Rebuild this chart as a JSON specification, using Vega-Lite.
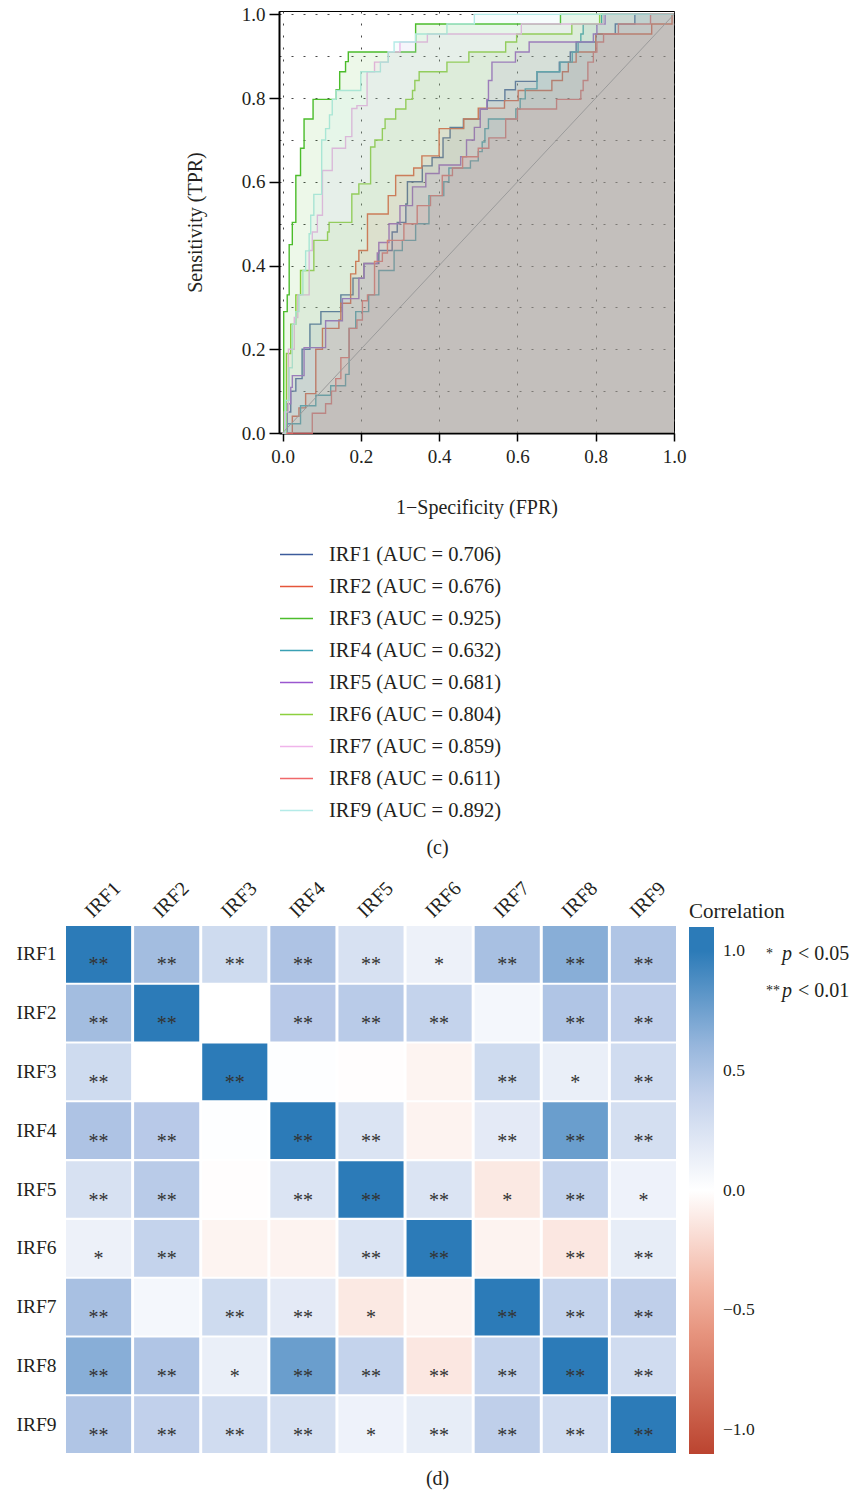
{
"$schema":"https://vega.github.io/schema/vega-lite/v6.json",
"padding":{"left":15,"top":4,"right":2,"bottom":4},
"background":"white",
"config":{
 "font":"Liberation Serif",
 "view":{"stroke":null},
 "axis":{"labelFont":"Liberation Serif","titleFont":"Liberation Serif","labelColor":"#231f20","titleColor":"#231f20","titleFontWeight":"normal"},
 "legend":{"labelFont":"Liberation Serif","titleFont":"Liberation Serif","labelColor":"#231f20","titleColor":"#231f20","titleFontWeight":"normal","padding":0},
 "title":{"font":"Liberation Serif","fontWeight":"normal","fontSize":20,"color":"#231f20"},
 "text":{"font":"Liberation Serif"}
},
"datasets":{
 "roc":[
  {"s":"IRF1 (AUC = 0.706)","fpr":0,"tpr":0},{"s":"IRF1 (AUC = 0.706)","fpr":0.012,"tpr":0.05},{"s":"IRF1 (AUC = 0.706)","fpr":0.021,"tpr":0.1},{"s":"IRF1 (AUC = 0.706)","fpr":0.034,"tpr":0.13},{"s":"IRF1 (AUC = 0.706)","fpr":0.05,"tpr":0.2},{"s":"IRF1 (AUC = 0.706)","fpr":0.07,"tpr":0.26},{"s":"IRF1 (AUC = 0.706)","fpr":0.098,"tpr":0.29},{"s":"IRF1 (AUC = 0.706)","fpr":0.149,"tpr":0.33},{"s":"IRF1 (AUC = 0.706)","fpr":0.18,"tpr":0.37},{"s":"IRF1 (AUC = 0.706)","fpr":0.208,"tpr":0.405},{"s":"IRF1 (AUC = 0.706)","fpr":0.246,"tpr":0.436},{"s":"IRF1 (AUC = 0.706)","fpr":0.28,"tpr":0.48},{"s":"IRF1 (AUC = 0.706)","fpr":0.293,"tpr":0.503},{"s":"IRF1 (AUC = 0.706)","fpr":0.315,"tpr":0.547},{"s":"IRF1 (AUC = 0.706)","fpr":0.319,"tpr":0.6},{"s":"IRF1 (AUC = 0.706)","fpr":0.357,"tpr":0.638},{"s":"IRF1 (AUC = 0.706)","fpr":0.382,"tpr":0.658},{"s":"IRF1 (AUC = 0.706)","fpr":0.41,"tpr":0.705},{"s":"IRF1 (AUC = 0.706)","fpr":0.428,"tpr":0.73},{"s":"IRF1 (AUC = 0.706)","fpr":0.462,"tpr":0.75},{"s":"IRF1 (AUC = 0.706)","fpr":0.505,"tpr":0.774},{"s":"IRF1 (AUC = 0.706)","fpr":0.523,"tpr":0.794},{"s":"IRF1 (AUC = 0.706)","fpr":0.568,"tpr":0.82},{"s":"IRF1 (AUC = 0.706)","fpr":0.595,"tpr":0.84},{"s":"IRF1 (AUC = 0.706)","fpr":0.65,"tpr":0.863},{"s":"IRF1 (AUC = 0.706)","fpr":0.707,"tpr":0.886},{"s":"IRF1 (AUC = 0.706)","fpr":0.735,"tpr":0.91},{"s":"IRF1 (AUC = 0.706)","fpr":0.75,"tpr":0.934},{"s":"IRF1 (AUC = 0.706)","fpr":0.8,"tpr":0.953},{"s":"IRF1 (AUC = 0.706)","fpr":0.85,"tpr":0.977},{"s":"IRF1 (AUC = 0.706)","fpr":0.9,"tpr":1},{"s":"IRF1 (AUC = 0.706)","fpr":1,"tpr":1},
  {"s":"IRF2 (AUC = 0.676)","fpr":0,"tpr":0},{"s":"IRF2 (AUC = 0.676)","fpr":0.025,"tpr":0.04},{"s":"IRF2 (AUC = 0.676)","fpr":0.042,"tpr":0.06},{"s":"IRF2 (AUC = 0.676)","fpr":0.059,"tpr":0.094},{"s":"IRF2 (AUC = 0.676)","fpr":0.085,"tpr":0.2},{"s":"IRF2 (AUC = 0.676)","fpr":0.102,"tpr":0.25},{"s":"IRF2 (AUC = 0.676)","fpr":0.144,"tpr":0.27},{"s":"IRF2 (AUC = 0.676)","fpr":0.149,"tpr":0.31},{"s":"IRF2 (AUC = 0.676)","fpr":0.174,"tpr":0.38},{"s":"IRF2 (AUC = 0.676)","fpr":0.187,"tpr":0.41},{"s":"IRF2 (AUC = 0.676)","fpr":0.195,"tpr":0.436},{"s":"IRF2 (AUC = 0.676)","fpr":0.217,"tpr":0.523},{"s":"IRF2 (AUC = 0.676)","fpr":0.27,"tpr":0.567},{"s":"IRF2 (AUC = 0.676)","fpr":0.289,"tpr":0.615},{"s":"IRF2 (AUC = 0.676)","fpr":0.335,"tpr":0.633},{"s":"IRF2 (AUC = 0.676)","fpr":0.356,"tpr":0.662},{"s":"IRF2 (AUC = 0.676)","fpr":0.4,"tpr":0.727},{"s":"IRF2 (AUC = 0.676)","fpr":0.463,"tpr":0.75},{"s":"IRF2 (AUC = 0.676)","fpr":0.5,"tpr":0.776},{"s":"IRF2 (AUC = 0.676)","fpr":0.567,"tpr":0.794},{"s":"IRF2 (AUC = 0.676)","fpr":0.602,"tpr":0.818},{"s":"IRF2 (AUC = 0.676)","fpr":0.688,"tpr":0.842},{"s":"IRF2 (AUC = 0.676)","fpr":0.715,"tpr":0.863},{"s":"IRF2 (AUC = 0.676)","fpr":0.73,"tpr":0.886},{"s":"IRF2 (AUC = 0.676)","fpr":0.75,"tpr":0.91},{"s":"IRF2 (AUC = 0.676)","fpr":0.8,"tpr":0.953},{"s":"IRF2 (AUC = 0.676)","fpr":0.943,"tpr":0.977},{"s":"IRF2 (AUC = 0.676)","fpr":0.995,"tpr":1},{"s":"IRF2 (AUC = 0.676)","fpr":1,"tpr":1},
  {"s":"IRF3 (AUC = 0.925)","fpr":0,"tpr":0},{"s":"IRF3 (AUC = 0.925)","fpr":0.003,"tpr":0.29},{"s":"IRF3 (AUC = 0.925)","fpr":0.012,"tpr":0.33},{"s":"IRF3 (AUC = 0.925)","fpr":0.017,"tpr":0.45},{"s":"IRF3 (AUC = 0.925)","fpr":0.025,"tpr":0.503},{"s":"IRF3 (AUC = 0.925)","fpr":0.034,"tpr":0.615},{"s":"IRF3 (AUC = 0.925)","fpr":0.046,"tpr":0.68},{"s":"IRF3 (AUC = 0.925)","fpr":0.055,"tpr":0.75},{"s":"IRF3 (AUC = 0.925)","fpr":0.078,"tpr":0.797},{"s":"IRF3 (AUC = 0.925)","fpr":0.137,"tpr":0.82},{"s":"IRF3 (AUC = 0.925)","fpr":0.146,"tpr":0.863},{"s":"IRF3 (AUC = 0.925)","fpr":0.161,"tpr":0.887},{"s":"IRF3 (AUC = 0.925)","fpr":0.168,"tpr":0.91},{"s":"IRF3 (AUC = 0.925)","fpr":0.34,"tpr":0.977},{"s":"IRF3 (AUC = 0.925)","fpr":0.71,"tpr":1},{"s":"IRF3 (AUC = 0.925)","fpr":1,"tpr":1},
  {"s":"IRF4 (AUC = 0.632)","fpr":0,"tpr":0},{"s":"IRF4 (AUC = 0.632)","fpr":0.008,"tpr":0.022},{"s":"IRF4 (AUC = 0.632)","fpr":0.046,"tpr":0.065},{"s":"IRF4 (AUC = 0.632)","fpr":0.085,"tpr":0.09},{"s":"IRF4 (AUC = 0.632)","fpr":0.123,"tpr":0.113},{"s":"IRF4 (AUC = 0.632)","fpr":0.161,"tpr":0.14},{"s":"IRF4 (AUC = 0.632)","fpr":0.17,"tpr":0.25},{"s":"IRF4 (AUC = 0.632)","fpr":0.187,"tpr":0.29},{"s":"IRF4 (AUC = 0.632)","fpr":0.22,"tpr":0.33},{"s":"IRF4 (AUC = 0.632)","fpr":0.246,"tpr":0.388},{"s":"IRF4 (AUC = 0.632)","fpr":0.285,"tpr":0.436},{"s":"IRF4 (AUC = 0.632)","fpr":0.306,"tpr":0.46},{"s":"IRF4 (AUC = 0.632)","fpr":0.34,"tpr":0.5},{"s":"IRF4 (AUC = 0.632)","fpr":0.374,"tpr":0.567},{"s":"IRF4 (AUC = 0.632)","fpr":0.412,"tpr":0.6},{"s":"IRF4 (AUC = 0.632)","fpr":0.425,"tpr":0.633},{"s":"IRF4 (AUC = 0.632)","fpr":0.48,"tpr":0.65},{"s":"IRF4 (AUC = 0.632)","fpr":0.5,"tpr":0.672},{"s":"IRF4 (AUC = 0.632)","fpr":0.51,"tpr":0.695},{"s":"IRF4 (AUC = 0.632)","fpr":0.517,"tpr":0.727},{"s":"IRF4 (AUC = 0.632)","fpr":0.526,"tpr":0.75},{"s":"IRF4 (AUC = 0.632)","fpr":0.596,"tpr":0.774},{"s":"IRF4 (AUC = 0.632)","fpr":0.607,"tpr":0.798},{"s":"IRF4 (AUC = 0.632)","fpr":0.62,"tpr":0.822},{"s":"IRF4 (AUC = 0.632)","fpr":0.65,"tpr":0.863},{"s":"IRF4 (AUC = 0.632)","fpr":0.709,"tpr":0.886},{"s":"IRF4 (AUC = 0.632)","fpr":0.74,"tpr":0.91},{"s":"IRF4 (AUC = 0.632)","fpr":0.755,"tpr":0.934},{"s":"IRF4 (AUC = 0.632)","fpr":0.762,"tpr":0.953},{"s":"IRF4 (AUC = 0.632)","fpr":0.768,"tpr":0.977},{"s":"IRF4 (AUC = 0.632)","fpr":0.815,"tpr":1},{"s":"IRF4 (AUC = 0.632)","fpr":1,"tpr":1},
  {"s":"IRF5 (AUC = 0.681)","fpr":0,"tpr":0},{"s":"IRF5 (AUC = 0.681)","fpr":0.012,"tpr":0.07},{"s":"IRF5 (AUC = 0.681)","fpr":0.021,"tpr":0.109},{"s":"IRF5 (AUC = 0.681)","fpr":0.025,"tpr":0.137},{"s":"IRF5 (AUC = 0.681)","fpr":0.055,"tpr":0.204},{"s":"IRF5 (AUC = 0.681)","fpr":0.11,"tpr":0.268},{"s":"IRF5 (AUC = 0.681)","fpr":0.153,"tpr":0.321},{"s":"IRF5 (AUC = 0.681)","fpr":0.195,"tpr":0.37},{"s":"IRF5 (AUC = 0.681)","fpr":0.208,"tpr":0.405},{"s":"IRF5 (AUC = 0.681)","fpr":0.242,"tpr":0.43},{"s":"IRF5 (AUC = 0.681)","fpr":0.246,"tpr":0.455},{"s":"IRF5 (AUC = 0.681)","fpr":0.272,"tpr":0.5},{"s":"IRF5 (AUC = 0.681)","fpr":0.3,"tpr":0.543},{"s":"IRF5 (AUC = 0.681)","fpr":0.332,"tpr":0.588},{"s":"IRF5 (AUC = 0.681)","fpr":0.366,"tpr":0.62},{"s":"IRF5 (AUC = 0.681)","fpr":0.4,"tpr":0.64},{"s":"IRF5 (AUC = 0.681)","fpr":0.455,"tpr":0.66},{"s":"IRF5 (AUC = 0.681)","fpr":0.47,"tpr":0.7},{"s":"IRF5 (AUC = 0.681)","fpr":0.49,"tpr":0.73},{"s":"IRF5 (AUC = 0.681)","fpr":0.505,"tpr":0.774},{"s":"IRF5 (AUC = 0.681)","fpr":0.522,"tpr":0.797},{"s":"IRF5 (AUC = 0.681)","fpr":0.526,"tpr":0.842},{"s":"IRF5 (AUC = 0.681)","fpr":0.535,"tpr":0.886},{"s":"IRF5 (AUC = 0.681)","fpr":0.595,"tpr":0.91},{"s":"IRF5 (AUC = 0.681)","fpr":0.63,"tpr":0.934},{"s":"IRF5 (AUC = 0.681)","fpr":0.794,"tpr":0.953},{"s":"IRF5 (AUC = 0.681)","fpr":0.803,"tpr":0.977},{"s":"IRF5 (AUC = 0.681)","fpr":0.824,"tpr":1},{"s":"IRF5 (AUC = 0.681)","fpr":1,"tpr":1},
  {"s":"IRF6 (AUC = 0.804)","fpr":0,"tpr":0},{"s":"IRF6 (AUC = 0.804)","fpr":0.01,"tpr":0.19},{"s":"IRF6 (AUC = 0.804)","fpr":0.021,"tpr":0.26},{"s":"IRF6 (AUC = 0.804)","fpr":0.034,"tpr":0.33},{"s":"IRF6 (AUC = 0.804)","fpr":0.046,"tpr":0.388},{"s":"IRF6 (AUC = 0.804)","fpr":0.08,"tpr":0.46},{"s":"IRF6 (AUC = 0.804)","fpr":0.115,"tpr":0.48},{"s":"IRF6 (AUC = 0.804)","fpr":0.119,"tpr":0.503},{"s":"IRF6 (AUC = 0.804)","fpr":0.177,"tpr":0.571},{"s":"IRF6 (AUC = 0.804)","fpr":0.195,"tpr":0.595},{"s":"IRF6 (AUC = 0.804)","fpr":0.225,"tpr":0.683},{"s":"IRF6 (AUC = 0.804)","fpr":0.236,"tpr":0.7},{"s":"IRF6 (AUC = 0.804)","fpr":0.255,"tpr":0.727},{"s":"IRF6 (AUC = 0.804)","fpr":0.262,"tpr":0.75},{"s":"IRF6 (AUC = 0.804)","fpr":0.289,"tpr":0.774},{"s":"IRF6 (AUC = 0.804)","fpr":0.315,"tpr":0.797},{"s":"IRF6 (AUC = 0.804)","fpr":0.332,"tpr":0.818},{"s":"IRF6 (AUC = 0.804)","fpr":0.338,"tpr":0.842},{"s":"IRF6 (AUC = 0.804)","fpr":0.349,"tpr":0.863},{"s":"IRF6 (AUC = 0.804)","fpr":0.42,"tpr":0.886},{"s":"IRF6 (AUC = 0.804)","fpr":0.476,"tpr":0.91},{"s":"IRF6 (AUC = 0.804)","fpr":0.57,"tpr":0.934},{"s":"IRF6 (AUC = 0.804)","fpr":0.598,"tpr":0.953},{"s":"IRF6 (AUC = 0.804)","fpr":0.739,"tpr":0.977},{"s":"IRF6 (AUC = 0.804)","fpr":0.81,"tpr":1},{"s":"IRF6 (AUC = 0.804)","fpr":1,"tpr":1},
  {"s":"IRF7 (AUC = 0.859)","fpr":0,"tpr":0},{"s":"IRF7 (AUC = 0.859)","fpr":0.005,"tpr":0.05},{"s":"IRF7 (AUC = 0.859)","fpr":0.015,"tpr":0.2},{"s":"IRF7 (AUC = 0.859)","fpr":0.03,"tpr":0.276},{"s":"IRF7 (AUC = 0.859)","fpr":0.039,"tpr":0.33},{"s":"IRF7 (AUC = 0.859)","fpr":0.068,"tpr":0.436},{"s":"IRF7 (AUC = 0.859)","fpr":0.076,"tpr":0.48},{"s":"IRF7 (AUC = 0.859)","fpr":0.089,"tpr":0.52},{"s":"IRF7 (AUC = 0.859)","fpr":0.102,"tpr":0.627},{"s":"IRF7 (AUC = 0.859)","fpr":0.127,"tpr":0.68},{"s":"IRF7 (AUC = 0.859)","fpr":0.161,"tpr":0.708},{"s":"IRF7 (AUC = 0.859)","fpr":0.177,"tpr":0.775},{"s":"IRF7 (AUC = 0.859)","fpr":0.19,"tpr":0.782},{"s":"IRF7 (AUC = 0.859)","fpr":0.216,"tpr":0.863},{"s":"IRF7 (AUC = 0.859)","fpr":0.235,"tpr":0.886},{"s":"IRF7 (AUC = 0.859)","fpr":0.27,"tpr":0.91},{"s":"IRF7 (AUC = 0.859)","fpr":0.3,"tpr":0.934},{"s":"IRF7 (AUC = 0.859)","fpr":0.37,"tpr":0.953},{"s":"IRF7 (AUC = 0.859)","fpr":0.61,"tpr":0.977},{"s":"IRF7 (AUC = 0.859)","fpr":0.82,"tpr":1},{"s":"IRF7 (AUC = 0.859)","fpr":1,"tpr":1},
  {"s":"IRF8 (AUC = 0.611)","fpr":0,"tpr":0},{"s":"IRF8 (AUC = 0.611)","fpr":0.076,"tpr":0.047},{"s":"IRF8 (AUC = 0.611)","fpr":0.11,"tpr":0.07},{"s":"IRF8 (AUC = 0.611)","fpr":0.125,"tpr":0.1},{"s":"IRF8 (AUC = 0.611)","fpr":0.136,"tpr":0.13},{"s":"IRF8 (AUC = 0.611)","fpr":0.149,"tpr":0.18},{"s":"IRF8 (AUC = 0.611)","fpr":0.17,"tpr":0.25},{"s":"IRF8 (AUC = 0.611)","fpr":0.19,"tpr":0.27},{"s":"IRF8 (AUC = 0.611)","fpr":0.204,"tpr":0.316},{"s":"IRF8 (AUC = 0.611)","fpr":0.217,"tpr":0.33},{"s":"IRF8 (AUC = 0.611)","fpr":0.235,"tpr":0.41},{"s":"IRF8 (AUC = 0.611)","fpr":0.255,"tpr":0.43},{"s":"IRF8 (AUC = 0.611)","fpr":0.268,"tpr":0.46},{"s":"IRF8 (AUC = 0.611)","fpr":0.31,"tpr":0.5},{"s":"IRF8 (AUC = 0.611)","fpr":0.344,"tpr":0.543},{"s":"IRF8 (AUC = 0.611)","fpr":0.378,"tpr":0.567},{"s":"IRF8 (AUC = 0.611)","fpr":0.408,"tpr":0.615},{"s":"IRF8 (AUC = 0.611)","fpr":0.434,"tpr":0.633},{"s":"IRF8 (AUC = 0.611)","fpr":0.46,"tpr":0.66},{"s":"IRF8 (AUC = 0.611)","fpr":0.5,"tpr":0.68},{"s":"IRF8 (AUC = 0.611)","fpr":0.527,"tpr":0.705},{"s":"IRF8 (AUC = 0.611)","fpr":0.57,"tpr":0.75},{"s":"IRF8 (AUC = 0.611)","fpr":0.6,"tpr":0.774},{"s":"IRF8 (AUC = 0.611)","fpr":0.7,"tpr":0.797},{"s":"IRF8 (AUC = 0.611)","fpr":0.762,"tpr":0.818},{"s":"IRF8 (AUC = 0.611)","fpr":0.768,"tpr":0.842},{"s":"IRF8 (AUC = 0.611)","fpr":0.78,"tpr":0.886},{"s":"IRF8 (AUC = 0.611)","fpr":0.794,"tpr":0.91},{"s":"IRF8 (AUC = 0.611)","fpr":0.803,"tpr":0.934},{"s":"IRF8 (AUC = 0.611)","fpr":0.82,"tpr":0.953},{"s":"IRF8 (AUC = 0.611)","fpr":0.858,"tpr":0.977},{"s":"IRF8 (AUC = 0.611)","fpr":0.94,"tpr":1},{"s":"IRF8 (AUC = 0.611)","fpr":1,"tpr":1},
  {"s":"IRF9 (AUC = 0.892)","fpr":0,"tpr":0},{"s":"IRF9 (AUC = 0.892)","fpr":0.008,"tpr":0.078},{"s":"IRF9 (AUC = 0.892)","fpr":0.017,"tpr":0.156},{"s":"IRF9 (AUC = 0.892)","fpr":0.025,"tpr":0.26},{"s":"IRF9 (AUC = 0.892)","fpr":0.034,"tpr":0.29},{"s":"IRF9 (AUC = 0.892)","fpr":0.042,"tpr":0.33},{"s":"IRF9 (AUC = 0.892)","fpr":0.052,"tpr":0.388},{"s":"IRF9 (AUC = 0.892)","fpr":0.059,"tpr":0.435},{"s":"IRF9 (AUC = 0.892)","fpr":0.068,"tpr":0.476},{"s":"IRF9 (AUC = 0.892)","fpr":0.072,"tpr":0.52},{"s":"IRF9 (AUC = 0.892)","fpr":0.08,"tpr":0.57},{"s":"IRF9 (AUC = 0.892)","fpr":0.1,"tpr":0.7},{"s":"IRF9 (AUC = 0.892)","fpr":0.11,"tpr":0.727},{"s":"IRF9 (AUC = 0.892)","fpr":0.12,"tpr":0.76},{"s":"IRF9 (AUC = 0.892)","fpr":0.127,"tpr":0.797},{"s":"IRF9 (AUC = 0.892)","fpr":0.137,"tpr":0.818},{"s":"IRF9 (AUC = 0.892)","fpr":0.2,"tpr":0.863},{"s":"IRF9 (AUC = 0.892)","fpr":0.25,"tpr":0.886},{"s":"IRF9 (AUC = 0.892)","fpr":0.27,"tpr":0.91},{"s":"IRF9 (AUC = 0.892)","fpr":0.285,"tpr":0.934},{"s":"IRF9 (AUC = 0.892)","fpr":0.34,"tpr":0.953},{"s":"IRF9 (AUC = 0.892)","fpr":0.42,"tpr":0.977},{"s":"IRF9 (AUC = 0.892)","fpr":0.49,"tpr":1},{"s":"IRF9 (AUC = 0.892)","fpr":1,"tpr":1}
 ],
 "diag":[{"fpr":0,"tpr":0},{"fpr":1,"tpr":1}],
 "corr":[
  {"r":"IRF1","c":"IRF1","v":1,"sig":"**"},{"r":"IRF1","c":"IRF2","v":0.56,"sig":"**"},{"r":"IRF1","c":"IRF3","v":0.32,"sig":"**"},{"r":"IRF1","c":"IRF4","v":0.52,"sig":"**"},{"r":"IRF1","c":"IRF5","v":0.26,"sig":"**"},{"r":"IRF1","c":"IRF6","v":0.12,"sig":"*"},{"r":"IRF1","c":"IRF7","v":0.54,"sig":"**"},{"r":"IRF1","c":"IRF8","v":0.66,"sig":"**"},{"r":"IRF1","c":"IRF9","v":0.51,"sig":"**"},
  {"r":"IRF2","c":"IRF1","v":0.56,"sig":"**"},{"r":"IRF2","c":"IRF2","v":1,"sig":"**"},{"r":"IRF2","c":"IRF3","v":0.0,"sig":""},{"r":"IRF2","c":"IRF4","v":0.47,"sig":"**"},{"r":"IRF2","c":"IRF5","v":0.46,"sig":"**"},{"r":"IRF2","c":"IRF6","v":0.39,"sig":"**"},{"r":"IRF2","c":"IRF7","v":0.07,"sig":""},{"r":"IRF2","c":"IRF8","v":0.51,"sig":"**"},{"r":"IRF2","c":"IRF9","v":0.41,"sig":"**"},
  {"r":"IRF3","c":"IRF1","v":0.32,"sig":"**"},{"r":"IRF3","c":"IRF2","v":0.0,"sig":""},{"r":"IRF3","c":"IRF3","v":1,"sig":"**"},{"r":"IRF3","c":"IRF4","v":0.01,"sig":""},{"r":"IRF3","c":"IRF5","v":-0.01,"sig":""},{"r":"IRF3","c":"IRF6","v":-0.06,"sig":""},{"r":"IRF3","c":"IRF7","v":0.32,"sig":"**"},{"r":"IRF3","c":"IRF8","v":0.14,"sig":"*"},{"r":"IRF3","c":"IRF9","v":0.31,"sig":"**"},
  {"r":"IRF4","c":"IRF1","v":0.52,"sig":"**"},{"r":"IRF4","c":"IRF2","v":0.47,"sig":"**"},{"r":"IRF4","c":"IRF3","v":0.01,"sig":""},{"r":"IRF4","c":"IRF4","v":1,"sig":"**"},{"r":"IRF4","c":"IRF5","v":0.24,"sig":"**"},{"r":"IRF4","c":"IRF6","v":-0.065,"sig":""},{"r":"IRF4","c":"IRF7","v":0.18,"sig":"**"},{"r":"IRF4","c":"IRF8","v":0.77,"sig":"**"},{"r":"IRF4","c":"IRF9","v":0.28,"sig":"**"},
  {"r":"IRF5","c":"IRF1","v":0.26,"sig":"**"},{"r":"IRF5","c":"IRF2","v":0.46,"sig":"**"},{"r":"IRF5","c":"IRF3","v":-0.01,"sig":""},{"r":"IRF5","c":"IRF4","v":0.24,"sig":"**"},{"r":"IRF5","c":"IRF5","v":1,"sig":"**"},{"r":"IRF5","c":"IRF6","v":0.24,"sig":"**"},{"r":"IRF5","c":"IRF7","v":-0.12,"sig":"*"},{"r":"IRF5","c":"IRF8","v":0.39,"sig":"**"},{"r":"IRF5","c":"IRF9","v":0.11,"sig":"*"},
  {"r":"IRF6","c":"IRF1","v":0.12,"sig":"*"},{"r":"IRF6","c":"IRF2","v":0.39,"sig":"**"},{"r":"IRF6","c":"IRF3","v":-0.06,"sig":""},{"r":"IRF6","c":"IRF4","v":-0.065,"sig":""},{"r":"IRF6","c":"IRF5","v":0.24,"sig":"**"},{"r":"IRF6","c":"IRF6","v":1,"sig":"**"},{"r":"IRF6","c":"IRF7","v":-0.065,"sig":""},{"r":"IRF6","c":"IRF8","v":-0.13,"sig":"**"},{"r":"IRF6","c":"IRF9","v":0.16,"sig":"**"},
  {"r":"IRF7","c":"IRF1","v":0.54,"sig":"**"},{"r":"IRF7","c":"IRF2","v":0.07,"sig":""},{"r":"IRF7","c":"IRF3","v":0.32,"sig":"**"},{"r":"IRF7","c":"IRF4","v":0.18,"sig":"**"},{"r":"IRF7","c":"IRF5","v":-0.12,"sig":"*"},{"r":"IRF7","c":"IRF6","v":-0.065,"sig":""},{"r":"IRF7","c":"IRF7","v":1,"sig":"**"},{"r":"IRF7","c":"IRF8","v":0.39,"sig":"**"},{"r":"IRF7","c":"IRF9","v":0.42,"sig":"**"},
  {"r":"IRF8","c":"IRF1","v":0.66,"sig":"**"},{"r":"IRF8","c":"IRF2","v":0.51,"sig":"**"},{"r":"IRF8","c":"IRF3","v":0.14,"sig":"*"},{"r":"IRF8","c":"IRF4","v":0.77,"sig":"**"},{"r":"IRF8","c":"IRF5","v":0.39,"sig":"**"},{"r":"IRF8","c":"IRF6","v":-0.13,"sig":"**"},{"r":"IRF8","c":"IRF7","v":0.39,"sig":"**"},{"r":"IRF8","c":"IRF8","v":1,"sig":"**"},{"r":"IRF8","c":"IRF9","v":0.31,"sig":"**"},
  {"r":"IRF9","c":"IRF1","v":0.51,"sig":"**"},{"r":"IRF9","c":"IRF2","v":0.41,"sig":"**"},{"r":"IRF9","c":"IRF3","v":0.31,"sig":"**"},{"r":"IRF9","c":"IRF4","v":0.28,"sig":"**"},{"r":"IRF9","c":"IRF5","v":0.11,"sig":"*"},{"r":"IRF9","c":"IRF6","v":0.16,"sig":"**"},{"r":"IRF9","c":"IRF7","v":0.42,"sig":"**"},{"r":"IRF9","c":"IRF8","v":0.31,"sig":"**"},{"r":"IRF9","c":"IRF9","v":1,"sig":"**"}
 ],
 "sig":[{"row":"a","part":"star","txt":"*"},{"row":"a","part":"p","txt":"p"},{"row":"a","part":"thr","txt":"< 0.05"},{"row":"b","part":"star","txt":"**"},{"row":"b","part":"p","txt":"p"},{"row":"b","part":"thr","txt":"< 0.01"}],
 "blank":[]
},
"spacing":18,
"resolve":{"scale":{"color":"independent"},"legend":{"color":"independent"}},
"vconcat":[
 {
  "hconcat":[
   {"width":118,"height":10,"data":{"name":"blank"},"mark":{"type":"text"},"encoding":{}},
   {
    "width":395,"height":422,
    "view":{"stroke":"#000000","strokeWidth":1},
    "title":{"text":"(c)","orient":"bottom","anchor":"middle","offset":17,"dx":-39},
    "layer":[
     {"data":{"name":"roc"},
      "mark":{"type":"line","interpolate":"step-after","strokeWidth":1.4},
      "encoding":{
       "x":{"field":"fpr","type":"quantitative","scale":{"domain":[-0.009,1],"nice":false,"zero":false},
        "axis":{"values":[0,0.1,0.2,0.3,0.4,0.5,0.6,0.7,0.8,0.9,1],"labelExpr":"round(datum.value*10)%2==0 ? format(datum.value,'.1f') : ''","tickOpacity":{"condition":{"test":"round(datum.value*10)%2!=0","value":0},"value":1},"grid":true,"gridDash":[2,10],"gridColor":"#333333","gridWidth":1,"gridOpacity":0.9,"tickSize":8,"tickWidth":1.5,"tickColor":"#000000","domainColor":"#000000","domainWidth":2,"labelFontSize":19,"labelPadding":6,"labelFlush":false,"title":"1−Specificity (FPR)","titleFontSize":20,"titlePadding":31}},
       "y":{"field":"tpr","type":"quantitative","scale":{"domain":[0,1.008],"nice":false},
        "axis":{"values":[0,0.1,0.2,0.3,0.4,0.5,0.6,0.7,0.8,0.9,1],"labelExpr":"round(datum.value*10)%2==0 ? format(datum.value,'.1f') : ''","tickOpacity":{"condition":{"test":"round(datum.value*10)%2!=0","value":0},"value":1},"grid":true,"gridDash":[2,10],"gridColor":"#333333","gridWidth":1,"gridOpacity":0.9,"tickSize":10,"tickWidth":1.5,"tickColor":"#000000","domainColor":"#000000","domainWidth":2,"labelFontSize":19,"labelPadding":4,"labelFlush":false,"title":"Sensitivity (TPR)","titleFontSize":20,"titlePadding":36}},
       "color":{"field":"s","type":"nominal",
        "scale":{"domain":["IRF1 (AUC = 0.706)","IRF2 (AUC = 0.676)","IRF3 (AUC = 0.925)","IRF4 (AUC = 0.632)","IRF5 (AUC = 0.681)","IRF6 (AUC = 0.804)","IRF7 (AUC = 0.859)","IRF8 (AUC = 0.611)","IRF9 (AUC = 0.892)"],
                 "range":["#3c5c9c","#e5563a","#4cbd2c","#3aa0b4","#9a57cf","#8dd03e","#f0b4ea","#f0686a","#b4ebe8"]},
        "legend":{"title":null,"orient":"none","legendX":0,"legendY":526,"symbolType":"stroke","symbolSize":1089,"symbolStrokeWidth":1.5,"labelFontSize":20.5,"labelOffset":15,"rowPadding":4,"labelLimit":400}}
      }},
     {"data":{"name":"roc"},
      "mark":{"type":"area","interpolate":"step-after","fillOpacity":0.1},
      "encoding":{"x":{"field":"fpr","type":"quantitative"},"y":{"field":"tpr","type":"quantitative","stack":null},"color":{"field":"s","type":"nominal"}}},
     {"data":{"name":"diag"},
      "mark":{"type":"line","color":"#9b9b9b","strokeWidth":1},
      "encoding":{"x":{"field":"fpr","type":"quantitative"},"y":{"field":"tpr","type":"quantitative"}}}
    ]
   }
  ],
  "spacing":0,
  "resolve":{"scale":{"color":"independent"},"legend":{"color":"independent"}}
 },
 {
  "hconcat":[
   {
    "width":610,"height":527,
    "data":{"name":"corr"},
    "encoding":{
     "x":{"field":"c","type":"nominal","sort":["IRF1","IRF2","IRF3","IRF4","IRF5","IRF6","IRF7","IRF8","IRF9"],"scale":{"paddingInner":0.044,"paddingOuter":0},
      "axis":{"orient":"top","title":null,"labelAngle":-45,"labelAlign":"left","labelBaseline":"middle","domain":false,"ticks":false,"tickSize":0,"labelFontSize":20,"labelPadding":12,"labelOffset":-10}},
     "y":{"field":"r","type":"nominal","sort":["IRF1","IRF2","IRF3","IRF4","IRF5","IRF6","IRF7","IRF8","IRF9"],"scale":{"paddingInner":0.035,"paddingOuter":0},
      "axis":{"title":null,"domain":false,"ticks":false,"tickSize":0,"labelFontSize":19.5,"labelPadding":10}}
    },
    "layer":[
     {"mark":{"type":"rect"},
      "encoding":{"color":{"field":"v","type":"quantitative",
        "scale":{"domain":[-1.1,-0.5,0,0.5,1,1.1],"range":["#bb4430","#efa38c","#ffffff","#b3c6e6","#2c7bb8","#2c7bb8"],"interpolate":"rgb"},
        "legend":{"title":"Correlation","orient":"none","legendX":623,"legendY":-25,"direction":"vertical","gradientLength":527,"gradientThickness":25,"gradientStrokeWidth":0,"values":[1,0.5,0,-0.5,-1],"format":".1f","labelFontSize":17.5,"titleFontSize":21,"titlePadding":5,"labelOffset":9}}}},
     {"mark":{"type":"text","fontSize":20,"color":"#333333","baseline":"alphabetic","dy":17},
      "encoding":{"text":{"field":"sig"}}}
    ]
   },
   {
    "width":32,"height":93,
    "data":{"name":"sig"},
    "encoding":{
     "x":{"field":"part","type":"nominal","scale":{"type":"point","domain":["star","p","thr"],"padding":0},"axis":null},
     "y":{"field":"row","type":"nominal","scale":{"type":"point","padding":0.757},"axis":null}
    },
    "layer":[
     {"transform":[{"filter":"datum.part=='star'"}],"mark":{"type":"text","align":"left","baseline":"middle","fontSize":14,"color":"#231f20"},"encoding":{"text":{"field":"txt"}}},
     {"transform":[{"filter":"datum.part=='p'"}],"mark":{"type":"text","align":"left","baseline":"middle","fontSize":20,"fontStyle":"italic","color":"#231f20"},"encoding":{"text":{"field":"txt"}}},
     {"transform":[{"filter":"datum.part=='thr'"}],"mark":{"type":"text","align":"left","baseline":"middle","fontSize":20,"color":"#231f20"},"encoding":{"text":{"field":"txt"}}}
    ]
   }
  ],
  "bounds":"flush",
  "spacing":90,
  "title":{"text":"(d)","orient":"bottom","anchor":"middle","offset":15,"dx":5}
 }
]
}
